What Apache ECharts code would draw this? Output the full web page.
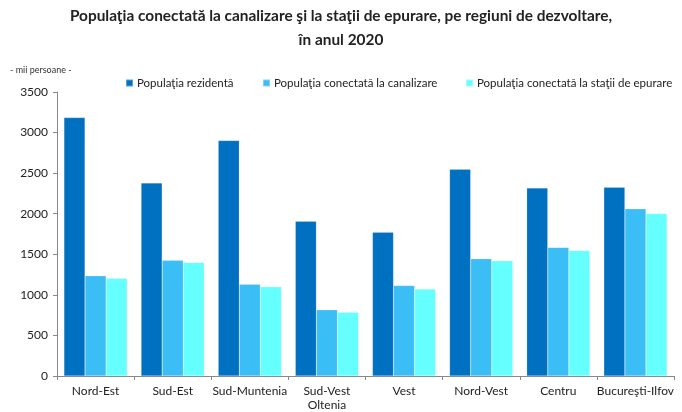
<!DOCTYPE html>
<html>
<head>
<meta charset="utf-8">
<script src="https://cdn.jsdelivr.net/npm/echarts@6/dist/echarts.min.js"></script>
<style>
  html, body { margin: 0; padding: 0; background: #fff; }
  #chart { width: 682px; height: 412px; }
</style>
</head>
<body>
<div id="chart"></div>
<script>
(function(){
	// regiuni de dezvoltare
	var categories = ['Nord-Est', 'Sud-Est', 'Sud-Muntenia', 'Sud-Vest\nOltenia', 'Vest', 'Nord-Vest', 'Centru', 'Bucureşti-Ilfov'];
	var seriesNames = ['Populaţia rezidentă', 'Populaţia conectată la canalizare', 'Populaţia conectată la staţii de epurare'];
	var rezidenta = [3185, 2379, 2903, 1908, 1773, 2547, 2318, 2326];
	var canalizare = [1237, 1425, 1130, 815, 1114, 1446, 1585, 2060];
	var epurare = [1204, 1400, 1101, 786, 1073, 1421, 1548, 2002];
	var yTicks = [0, 500, 1000, 1500, 2000, 2500, 3000, 3500];

	var colors = ['#0070C0', '#3BBDF6', '#66FFFF'];
	var font = 'Lato, "Open Sans", sans-serif';

	var ele = document.getElementById('chart'),
		myChart = echarts.init(ele);

	function legendAt(name, left) {
		return {
			data: [name],
			left: left,
			top: 77,
			padding: 0,
			itemWidth: 7,
			itemHeight: 7,
			icon: 'rect',
			itemGap: 0,
			selectedMode: false,
			textStyle: { fontFamily: font, fontSize: 11.5, color: '#222', padding: [0, 0, 0, -1] }
		};
	}

	function bar(name, data, color) {
		return {
			name: name,
			type: 'bar',
			data: data,
			barGap: '0%',
			barCategoryGap: '18%',
			itemStyle: { color: color, borderColor: 'rgba(255,255,255,0.35)', borderWidth: 0.5 }
		};
	}

	var titleStyle = { fontFamily: font, fontSize: 15.4, fontWeight: 'bold', color: '#222' };

	var option = {
		backgroundColor: '#fff',
		animation: false,
		title: [{
			text: 'Populaţia conectată la canalizare şi la staţii de epurare, pe regiuni de dezvoltare,',
			left: 'center',
			top: 4,
			textStyle: titleStyle
		}, {
			text: 'în anul 2020',
			left: 'center',
			top: 28,
			textStyle: titleStyle
		}, {
			text: '- mii persoane -',
			left: 5,
			top: 61,
			textStyle: { fontFamily: font, fontSize: 9, fontWeight: 'normal', color: '#333' }
		}],
		legend: [
			legendAt(seriesNames[0], 125),
			legendAt(seriesNames[1], 262),
			legendAt(seriesNames[2], 465)
		],
		grid: { left: 57, right: 8, top: 92, bottom: 35, containLabel: false },
		xAxis: {
			type: 'category',
			data: categories,
			axisLine: { lineStyle: { color: '#888', width: 1 } },
			axisTick: { show: true, length: 4, lineStyle: { color: '#888' } },
			axisLabel: { fontFamily: font, fontSize: 12, color: '#222', margin: 8, lineHeight: 14, interval: 0 }
		},
		yAxis: {
			type: 'value',
			min: yTicks[0],
			max: yTicks[yTicks.length - 1],
			interval: 500,
			axisLine: { show: true, lineStyle: { color: '#888', width: 1 } },
			axisTick: { show: true, length: 4, lineStyle: { color: '#888' } },
			splitLine: { show: false },
			axisLabel: { fontFamily: font, fontSize: 12, color: '#222', margin: 9, formatter: function(v){ return String(v); } }
		},
		series: [
			bar(seriesNames[0], rezidenta, colors[0]),
			bar(seriesNames[1], canalizare, colors[1]),
			bar(seriesNames[2], epurare, colors[2])
		]
	};
	myChart.setOption(option);
})();
</script>
</body>
</html>
